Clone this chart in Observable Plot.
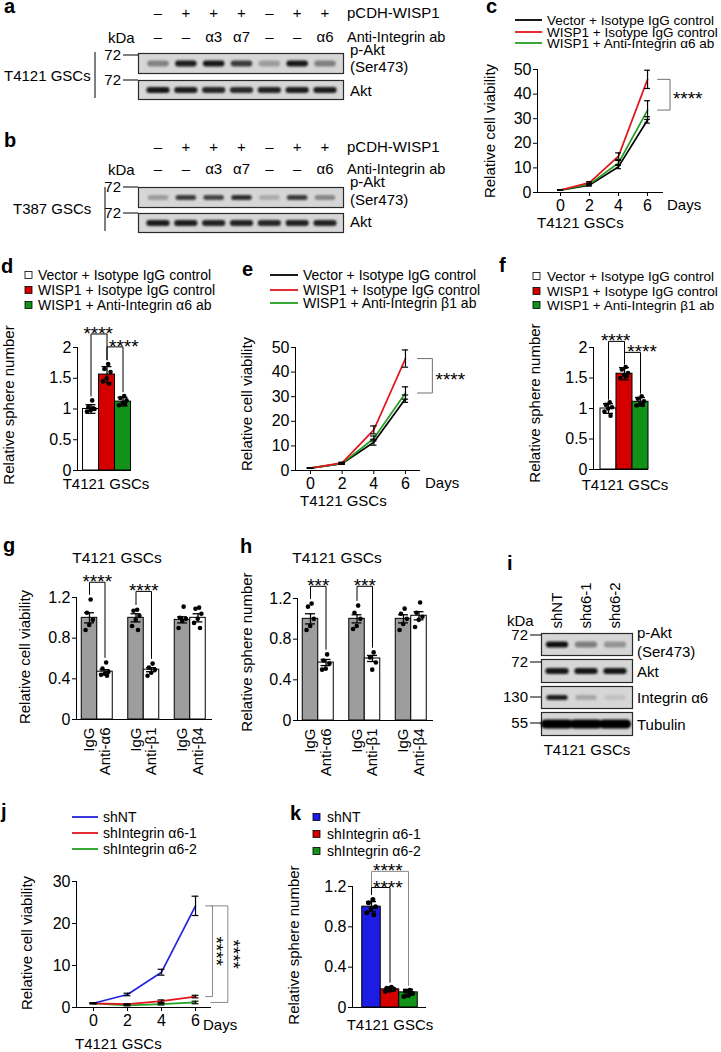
<!DOCTYPE html>
<html><head><meta charset="utf-8">
<script src="https://cdn.jsdelivr.net/npm/d3@7"></script>
<script src="https://cdn.jsdelivr.net/npm/@observablehq/plot@0.6"></script>
<style>
html,body{margin:0;padding:0;background:#fff;overflow:hidden;}
#fig{position:relative;width:721px;height:1052px;overflow:hidden;background:#fff;font-family:"Liberation Sans",Arial,Helvetica,sans-serif;}
#fig svg{position:absolute;overflow:visible;}
</style></head>
<body><div id="fig"></div>
<script>
// ---------------- DATA ----------------
// a / b : western blots (lane labels and relative band intensities)
const laneWISP1 = ["–","+","+","+","–","+","+"];
const laneAntiIntegrin = ["–","–","α3","α7","–","–","α6"];
const blotA_pAkt = [0.40, 0.90, 0.93, 0.74, 0.28, 0.93, 0.42];
const blotA_Akt  = [0.92, 0.88, 0.84, 0.82, 0.85, 0.88, 0.90];
const blotB_pAkt = [0.28, 0.74, 0.70, 0.80, 0.20, 0.74, 0.38];
const blotB_Akt  = [0.90, 0.90, 0.85, 0.86, 0.84, 0.86, 0.86];

// c : cell viability, T4121, anti-integrin a6
const days = [0, 2, 4, 6];
const cVector = [1, 3.0, 10.5, 29.5],  cVectorErr = [0.1, 0.4, 0.8, 1.3];
const cWISP1  = [1, 4.0, 14.8, 46.0],  cWISP1Err  = [0.1, 0.4, 1.3, 3.7];
const cAntiA6 = [1, 3.4, 12.0, 33.5],  cAntiA6Err = [0.1, 0.4, 1.0, 3.8];

// d : sphere number, anti-integrin a6
const dMean = [1.0, 1.56, 1.12], dSD = [0.07, 0.13, 0.07];
const dPoints = [[1.14, 1.03, 1.00, 0.98, 0.96, 1.01], [1.73, 1.65, 1.60, 1.50, 1.45, 1.41], [1.21, 1.18, 1.14, 1.10, 1.06, 1.08]];

// e : cell viability, anti-integrin b1
const eVector = [1, 2.8, 11.5, 29.2],  eVectorErr = [0.1, 0.3, 1.2, 1.5];
const eWISP1  = [1, 3.1, 16.5, 45.5],  eWISP1Err  = [0.1, 0.3, 1.6, 3.5];
const eAntiB1 = [1, 2.9, 13.0, 31.5],  eAntiB1Err = [0.1, 0.3, 1.0, 2.5];

// f : sphere number, anti-integrin b1
const fMean = [1.0, 1.57, 1.11], fSD = [0.08, 0.10, 0.07];
const fPoints = [[1.10, 1.06, 1.02, 1.00, 0.95, 0.88], [1.68, 1.64, 1.58, 1.55, 1.50, 1.53], [1.20, 1.16, 1.12, 1.08, 1.05, 1.06]];

// g / h : blocking antibodies
const ghTreatments = ["IgG", "Anti-α6", "IgG", "Anti-β1", "IgG", "Anti-β4"];
const gMean = [1.0, 0.47, 1.0, 0.49, 0.98, 1.0], gSEM = [0.05, 0.02, 0.04, 0.02, 0.03, 0.04];
const gPoints = [[1.18, 1.05, 0.98, 0.93, 0.88], [0.56, 0.50, 0.47, 0.45, 0.44, 0.43], [1.08, 1.07, 1.02, 0.98, 0.92, 0.88],
                 [0.55, 0.51, 0.49, 0.46, 0.43], [1.11, 1.00, 0.99, 0.97, 0.90], [1.10, 1.09, 1.04, 0.99, 0.95, 0.90]];
const hMean = [1.0, 0.57, 1.0, 0.61, 1.0, 1.03], hSEM = [0.05, 0.03, 0.04, 0.03, 0.04, 0.04];
const hPoints = [[1.15, 1.12, 1.00, 0.93, 0.89], [0.65, 0.59, 0.56, 0.51, 0.50], [1.13, 1.06, 1.00, 0.93, 0.90],
                 [0.67, 0.62, 0.57, 0.50], [1.10, 1.05, 1.00, 0.95, 0.89], [1.16, 1.06, 1.02, 0.99, 0.92]];

// i : knockdown blot
const iLanes = ["shNT", "shα6-1", "shα6-2"];
const iRowLabels = ["p-Akt", "Akt", "Integrin α6", "Tubulin"];
const iMarkers = ["72", "72", "130", "55"];
const blotI_pAkt  = [0.95, 0.42, 0.32];
const blotI_Akt   = [0.92, 0.92, 0.92];
const blotI_ITGA6 = [0.88, 0.22, 0.10];
const blotI_Tub   = [1.0, 1.0, 1.0];

// j : viability after knockdown
const jNT  = [1, 3.1, 8.4, 24.2], jNTErr  = [0.1, 0.3, 0.7, 2.3];
const jA61 = [1, 0.8, 1.5, 2.6],  jA61Err = [0.1, 0.1, 0.3, 0.3];
const jA62 = [1, 0.5, 0.8, 1.2],  jA62Err = [0.1, 0.1, 0.2, 0.3];

// k : sphere number after knockdown
const kGroups = ["shNT", "shIntegrin α6-1", "shIntegrin α6-2"];
const kMean = [1.0, 0.18, 0.15], kSD = [0.05, 0.02, 0.03];
const kPoints = [[1.07, 1.04, 1.00, 0.98, 0.94, 0.92], [0.20, 0.19, 0.18, 0.17, 0.16, 0.18], [0.17, 0.16, 0.14, 0.12, 0.11, 0.15]];

// ---------------- STYLE ----------------
const FONT = '"Liberation Sans", Arial, Helvetica, sans-serif';
const TICK = 16;
const RED_L = "#e3141c", GREEN_L = "#22a022", BLUE_L = "#2424dc";
const RED_B = "#d40000", GREEN_B = "#129218", BLUE_B = "#1c1ce4", GRAY_B = "#9d9d9d";
const fig = document.getElementById("fig");

function mount(svg, left, top) {
  svg.style.position = "absolute";
  svg.style.left = left + "px";
  svg.style.top = top + "px";
  svg.style.maxWidth = "none";
  svg.style.overflow = "visible";
  svg.style.background = "transparent";
  fig.appendChild(svg);
  return svg;
}

function frameChart({px0, px1, py0, py1, x, y, marks}) {
  const p = 60;
  const svg = Plot.plot({
    width: px1 - px0 + 2 * p, height: py1 - py0 + 2 * p,
    marginLeft: p, marginRight: p, marginTop: p, marginBottom: p,
    x, y, color: {type: "identity"},
    style: {fontFamily: FONT, fontSize: "15px", background: "transparent", overflow: "visible", color: "#000"},
    marks
  });
  return mount(svg, px0 - p, py0 - p);
}

const yAxis = (ticks) => Plot.axisY({ticks, tickFormat: d => String(d), tickSize: 4, tickPadding: 2, fontSize: TICK, label: null});

function lineChart({box, xDomain, yDomain, yTicks, series, capHalf, extra}) {
  const marks = [
    Plot.ruleX([xDomain[0]], {stroke: "#000"}),
    Plot.ruleY([0], {stroke: "#000"}),
    yAxis(yTicks),
    Plot.axisX({ticks: days, tickFormat: d => String(d), tickSize: 4, tickPadding: 3, fontSize: TICK, label: null})
  ];
  for (const s of series) {
    const rows = days.map((d, i) => ({day: d, v: s.values[i]}));
    marks.push(Plot.line(rows, {x: "day", y: "v", stroke: s.color, strokeWidth: 1.7}));
  }
  for (const s of series) {
    const rows = days.map((d, i) => ({day: d, v: s.values[i], e: s.errors[i]}));
    marks.push(Plot.ruleX(rows, {x: "day", y1: d => d.v - d.e, y2: d => d.v + d.e, stroke: "#000", strokeWidth: 1.2}));
    marks.push(Plot.ruleY(rows, {y: d => d.v + d.e, x1: d => d.day - capHalf, x2: d => d.day + capHalf, stroke: "#000", strokeWidth: 1.2}));
    marks.push(Plot.ruleY(rows, {y: d => d.v - d.e, x1: d => d.day - capHalf, x2: d => d.day + capHalf, stroke: "#000", strokeWidth: 1.2}));
  }
  marks.push(...extra);
  frameChart({...box, x: {domain: xDomain}, y: {domain: yDomain}, marks});
}

function jit(k) { return (((k + 1) * 0.6180339887) % 1 - 0.5) * 0.62; }

function barChart(cfg) {
  const {box, xDomain, yDomain, yTicks, xs, means, errs, points, fills, dotR = 2.3, capHalf = 0.3,
         pad = 0.05, brackets = [], stars = [], starSize = 19, xAxis = null} = cfg;
  const bars = means.map((m, i) => ({x: xs[i], m, e: errs[i], fill: fills[i]}));
  const dots = points.flatMap((arr, g) => arr.map((v, k) => ({x: xs[g] + jit(k), v})));
  const legTop = g => Math.max(...points[g]) + pad;
  const marks = [
    Plot.rect(bars, {x1: d => d.x - 0.5, x2: d => d.x + 0.5, y1: () => 0, y2: "m", fill: "fill", stroke: "#000", strokeWidth: 1}),
    Plot.dot(dots, {x: "x", y: "v", r: dotR, fill: "#000", stroke: "none"}),
    Plot.ruleX(bars, {x: "x", y1: d => d.m - d.e, y2: d => d.m + d.e, stroke: "#000", strokeWidth: 1.3}),
    Plot.ruleY(bars, {y: d => d.m + d.e, x1: d => d.x - capHalf, x2: d => d.x + capHalf, stroke: "#000", strokeWidth: 1.3}),
    Plot.ruleY(bars, {y: d => d.m - d.e, x1: d => d.x - capHalf, x2: d => d.x + capHalf, stroke: "#000", strokeWidth: 1.3}),
    Plot.ruleX([xDomain[0]], {stroke: "#000"}),
    Plot.ruleY([0], {stroke: "#000"}),
    yAxis(yTicks)
  ];
  for (const b of brackets) {
    const xa = xs[b.a], xb = xs[b.b];
    marks.push(Plot.line([[xa, legTop(b.a)], [xa, b.level], [xb, b.level], [xb, legTop(b.b)]],
      {stroke: b.color || "#000", strokeWidth: 1}));
  }
  for (const s of stars) {
    marks.push(Plot.text([s], {x: () => s.x, y: () => s.y, text: () => s.t, fontSize: starSize, textAnchor: "middle", fill: "#000"}));
  }
  if (xAxis) marks.push(xAxis);
  frameChart({...box, x: xAxis ? {domain: xDomain} : {domain: xDomain, axis: null}, y: {domain: yDomain}, marks});
}

let uid = 0;
function blotStrip(intens, {left, top, w, h, lane0, pitch, half, thick, fill = "#d6d6d6", extra = []}) {
  const d0 = (left - lane0) / pitch, d1 = (left + w - lane0) / pitch;
  const mix = d3.interpolateRgb(fill, "#050505");
  const svg = Plot.plot({
    width: w, height: h, margin: 0,
    x: extra.length ? {domain: [d0, d1]} : {domain: [d0, d1], axis: null},
    y: {domain: [0, 1], axis: null},
    color: {type: "identity"},
    style: {fontFamily: FONT, fontSize: "15px", background: "transparent", overflow: "visible", color: "#000"},
    marks: [
      Plot.frame({fill, stroke: "#2a2a2a", strokeWidth: 1.2}),
      Plot.ruleY(intens, {x1: (d, i) => i - half, x2: (d, i) => i + half, y: () => 0.5,
        stroke: d => mix(d), strokeWidth: thick, strokeLinecap: "round"}),
      ...extra
    ]
  });
  const id = "bandblur" + (uid++);
  const s = d3.select(svg);
  s.append("defs").append("filter").attr("id", id).attr("filterUnits", "userSpaceOnUse")
    .attr("x", -10).attr("y", -10).attr("width", w + 20).attr("height", h + 20)
    .append("feGaussianBlur").attr("stdDeviation", "1.3 0.9");
  s.selectAll('g[aria-label="rule"]').attr("filter", `url(#${id})`);
  return mount(svg, left, top);
}

// ---------------- BLOTS a / b ----------------
const laneGeo = {left: 138, w: 205, lane0: 158, pitch: 27.83};
blotStrip(blotA_pAkt, {...laneGeo, top: 53, h: 20, half: 0.28, thick: 6});
blotStrip(blotA_Akt,  {...laneGeo, top: 80, h: 19, half: 0.31, thick: 6});
blotStrip(blotB_pAkt, {...laneGeo, top: 187, h: 20, half: 0.28, thick: 5});
blotStrip(blotB_Akt,  {...laneGeo, top: 213, h: 19, half: 0.31, thick: 6});

// ---------------- BLOT i ----------------
const iGeo = {left: 541, w: 91, lane0: 557, pitch: 29};
blotStrip(blotI_pAkt, {...iGeo, top: 633, h: 22, half: 0.28, thick: 6,
  extra: [Plot.axisX({anchor: "top", ticks: [0, 1, 2], tickFormat: i => iLanes[i], tickRotate: -90, tickSize: 0, tickPadding: 5, fontSize: 15, label: null})]});
blotStrip(blotI_Akt,   {...iGeo, top: 659, h: 23, half: 0.3, thick: 6});
blotStrip(blotI_ITGA6, {...iGeo, top: 686, h: 22, half: 0.28, thick: 5});
blotStrip(blotI_Tub,   {...iGeo, top: 712, h: 23, half: 0.4, thick: 9});

// ---------------- c ----------------
lineChart({
  box: {px0: 537, px1: 663, py0: 69, py1: 192}, xDomain: [-1.586, 7.10], yDomain: [0, 50],
  yTicks: [0, 10, 20, 30, 40, 50], capHalf: 0.2,
  series: [
    {values: cVector, errors: cVectorErr, color: "#000"},
    {values: cAntiA6, errors: cAntiA6Err, color: GREEN_L},
    {values: cWISP1, errors: cWISP1Err, color: RED_L}
  ],
  extra: [
    Plot.line([[6.7, cWISP1[3]], [7.55, cWISP1[3]], [7.55, cAntiA6[3]], [6.7, cAntiA6[3]]], {stroke: "#707070", strokeWidth: 1}),
    Plot.text(["****"], {x: () => 7.75, y: () => (cWISP1[3] + cAntiA6[3]) / 2, text: d => d, fontSize: 19, textAnchor: "start", dy: 4})
  ]
});

// ---------------- e ----------------
lineChart({
  box: {px0: 295, px1: 420, py0: 347, py1: 470}, xDomain: [-0.947, 6.95], yDomain: [0, 50],
  yTicks: [0, 10, 20, 30, 40, 50], capHalf: 0.2,
  series: [
    {values: eVector, errors: eVectorErr, color: "#000"},
    {values: eAntiB1, errors: eAntiB1Err, color: GREEN_L},
    {values: eWISP1, errors: eWISP1Err, color: RED_L}
  ],
  extra: [
    Plot.line([[6.76, eWISP1[3]], [7.7, eWISP1[3]], [7.7, eAntiB1[3]], [6.76, eAntiB1[3]]], {stroke: "#707070", strokeWidth: 1}),
    Plot.text(["****"], {x: () => 7.9, y: () => (eWISP1[3] + eAntiB1[3]) / 2, text: d => d, fontSize: 19, textAnchor: "start", dy: 4})
  ]
});

// ---------------- j ----------------
lineChart({
  box: {px0: 76, px1: 211, py0: 881, py1: 1007}, xDomain: [-1.0, 6.94], yDomain: [0, 30],
  yTicks: [0, 10, 20, 30], capHalf: 0.2,
  series: [
    {values: jA62, errors: jA62Err, color: GREEN_L},
    {values: jA61, errors: jA61Err, color: RED_L},
    {values: jNT, errors: jNTErr, color: BLUE_L}
  ],
  extra: [
    Plot.line([[6.59, jNT[3]], [7.0, jNT[3]], [7.0, jA61[3]], [6.59, jA61[3]]], {stroke: "#888", strokeWidth: 1}),
    Plot.line([[6.9, jNT[3]], [7.9, jNT[3]], [7.9, jA62[3]], [6.9, jA62[3]]], {stroke: "#888", strokeWidth: 1}),
    Plot.text(["****"], {x: () => 7.2, y: () => (jNT[3] + jA61[3]) / 2, text: d => d, fontSize: 19, rotate: 90}),
    Plot.text(["****"], {x: () => 8.2, y: () => (jNT[3] + jA62[3]) / 2, text: d => d, fontSize: 19, rotate: 90})
  ]
});

// ---------------- d ----------------
barChart({
  box: {px0: 77, px1: 131, py0: 347, py1: 470}, xDomain: [-0.844, 2.531], yDomain: [0, 2],
  yTicks: [0, 0.5, 1, 1.5, 2], xs: [0, 1, 2], means: dMean, errs: dSD, points: dPoints,
  fills: ["#fff", RED_B, GREEN_B], capHalf: 0.31, pad: 0.07,
  brackets: [{a: 0, b: 1, level: 2.22}, {a: 1, b: 2, level: 2.01}],
  stars: [{x: 0.45, y: 2.22, t: "****"}, {x: 2.05, y: 2.01, t: "****"}]
});

// ---------------- f ----------------
barChart({
  box: {px0: 593, px1: 648, py0: 347, py1: 469}, xDomain: [-0.9375, 2.5], yDomain: [0, 2],
  yTicks: [0, 0.5, 1, 1.5, 2], xs: [0, 1, 2], means: fMean, errs: fSD, points: fPoints,
  fills: ["#fff", RED_B, GREEN_B], capHalf: 0.31, pad: 0.05,
  brackets: [{a: 0, b: 1, level: 2.10}, {a: 1, b: 2, level: 1.92}],
  stars: [{x: 0.45, y: 2.10, t: "****"}, {x: 2.1, y: 1.92, t: "****"}]
});

// ---------------- g ----------------
const ghXs = [0, 1, 3, 4, 6, 7];
const ghAxis = () => Plot.axisX({ticks: ghXs, tickFormat: d => ghTreatments[ghXs.indexOf(d)], tickRotate: -90, tickSize: 0, tickPadding: 8, fontSize: 15, label: null});
barChart({
  box: {px0: 76, px1: 212, py0: 597, py1: 719}, xDomain: [-0.839, 7.935], yDomain: [0, 1.2],
  yTicks: [0, 0.4, 0.8, 1.2], xs: ghXs, means: gMean, errs: gSEM, points: gPoints,
  fills: [GRAY_B, "#fff", GRAY_B, "#fff", GRAY_B, "#fff"], capHalf: 0.32, pad: 0.05,
  brackets: [{a: 0, b: 1, level: 1.35}, {a: 2, b: 3, level: 1.26}],
  stars: [{x: 0.5, y: 1.35, t: "****"}, {x: 3.5, y: 1.26, t: "****"}],
  xAxis: ghAxis()
});

// ---------------- h ----------------
barChart({
  box: {px0: 297, px1: 433, py0: 598, py1: 720}, xDomain: [-0.839, 7.935], yDomain: [0, 1.2],
  yTicks: [0, 0.4, 0.8, 1.2], xs: ghXs, means: hMean, errs: hSEM, points: hPoints,
  fills: [GRAY_B, "#fff", GRAY_B, "#fff", GRAY_B, "#fff"], capHalf: 0.32, pad: 0.05,
  brackets: [{a: 0, b: 1, level: 1.32}, {a: 2, b: 3, level: 1.32}],
  stars: [{x: 0.5, y: 1.32, t: "***"}, {x: 3.5, y: 1.32, t: "***"}],
  xAxis: ghAxis()
});

// ---------------- k ----------------
barChart({
  box: {px0: 352, px1: 426, py0: 886, py1: 1007}, xDomain: [-1.027, 2.973], yDomain: [0, 1.2],
  yTicks: [0, 0.4, 0.8, 1.2], xs: [0, 1, 2], means: kMean, errs: kSD, points: kPoints,
  fills: [BLUE_B, RED_B, GREEN_B], capHalf: 0.27, pad: 0.05, dotR: 2.5,
  brackets: [{a: 0, b: 2, level: 1.35, color: "#888"}, {a: 0, b: 1, level: 1.19}],
  stars: [{x: 0.88, y: 1.35, t: "****"}, {x: 0.88, y: 1.19, t: "****"}]
});

// ---------------- OVERLAY TEXT ----------------
const ov = d3.create("svg").attr("width", 721).attr("height", 1052).attr("font-family", FONT).style("pointer-events", "none");
mount(ov.node(), 0, 0);
function T(x, y, s, o = {}) {
  const t = ov.append("text").attr("x", x).attr("y", y).attr("font-size", o.size || 15)
    .attr("text-anchor", o.anchor || "start").attr("fill", "#000").text(s);
  if (o.bold) t.attr("font-weight", "bold");
  if (o.rot != null) t.attr("transform", `rotate(${o.rot},${x},${y})`);
  return t;
}
function L(x1, y1, x2, y2, stroke = "#000", w = 1) {
  ov.append("line").attr("x1", x1).attr("y1", y1).attr("x2", x2).attr("y2", y2).attr("stroke", stroke).attr("stroke-width", w);
}
function sq(x, cy, fill) {
  ov.append("rect").attr("x", x).attr("y", cy - 3.5).attr("width", 7).attr("height", 7).attr("fill", fill).attr("stroke", "#000").attr("stroke-width", 0.8);
}

// panel letters
[["a", 4, 13], ["b", 4, 147], ["c", 486, 13], ["d", 1, 273], ["e", 242, 276], ["f", 499, 272],
 ["g", 3, 552], ["h", 240, 553], ["i", 507, 570], ["j", 1, 818], ["k", 290, 820]]
  .forEach(([s, x, y]) => T(x, y, s, {size: 20, bold: true}));

// a / b labels
[[18, 42, "T4121 GSCs", 81, 60, 85, 55, 80, 95, 52, 98, 55, 72, 96],
 [152, 174, "T387 GSCs", 214, 192, 218, 187, 213, 105, 187, 231, 187, 205, 227]]
  .forEach(([r1, r2, cell, cellY, m1, m2, t1, t2, vx, vy1, vy2, pa, ser, akt], bi) => {
    laneWISP1.forEach((s, i) => T(laneGeo.lane0 + i * laneGeo.pitch, r1, s, {anchor: "middle"}));
    laneAntiIntegrin.forEach((s, i) => T(laneGeo.lane0 + i * laneGeo.pitch, r2, s, {anchor: "middle"}));
    T(347, r1, "pCDH-WISP1");
    T(347, r2, "Anti-Integrin ab", {size: 14.5});
    T(108, r2 + 1, "kDa");
    T(121, m1, "72", {anchor: "end"}); L(123, t1, 138, t1);
    T(121, m2, "72", {anchor: "end"}); L(123, t2, 138, t2);
    T(350, pa, "p-Akt"); T(350, ser, "(Ser473)"); T(350, akt, "Akt");
    T(bi === 0 ? 4 : 13, cellY, cell);
    L(vx, vy1, vx, vy2);
  });

// c
[["Vector + Isotype IgG control", "#000", 20], ["WISP1 + Isotype IgG control", RED_L, 32], ["WISP1 + Anti-Integrin α6 ab", GREEN_L, 43]]
  .forEach(([s, c, y]) => { L(515, y, 542, y, c, 1.8); T(547, y + 5, s, {size: 13.5}); });
T(495, 131, "Relative cell viability", {rot: -90, anchor: "middle"});
T(667, 210, "Days");
T(537, 228, "T4121 GSCs");

// d
[["Vector + Isotype IgG control", "#fff", 275], ["WISP1 + Isotype IgG control", RED_B, 290], ["WISP1 + Anti-Integrin α6 ab", GREEN_B, 305]]
  .forEach(([s, c, y]) => { sq(25, y, c); T(38, y + 5, s, {size: 14}); });
T(14, 405, "Relative sphere number", {rot: -90, anchor: "middle"});
T(106, 489, "T4121 GSCs", {anchor: "middle"});

// e
[["Vector + Isotype IgG control", "#000", 275], ["WISP1 + Isotype IgG control", RED_L, 290], ["WISP1 + Anti-Integrin β1 ab", GREEN_L, 303]]
  .forEach(([s, c, y]) => { L(270, y, 298, y, c, 1.8); T(303, y + 5, s, {size: 14}); });
T(252, 404, "Relative cell viability", {rot: -90, anchor: "middle"});
T(425, 488, "Days");
T(300, 506, "T4121 GSCs");

// f
[["Vector + Isotype IgG control", "#fff", 276], ["WISP1 + Isotype IgG control", RED_B, 291], ["WISP1 + Anti-Integrin β1 ab", GREEN_B, 305]]
  .forEach(([s, c, y]) => { sq(533, y, c); T(547, y + 5, s, {size: 13.5}); });
T(540, 403, "Relative sphere number", {rot: -90, anchor: "middle"});
T(625, 490, "T4121 GSCs", {anchor: "middle"});

// g / h
T(117, 563, "T4121 GSCs", {anchor: "middle", size: 15.5});
T(30, 657, "Relative cell viability", {rot: -90, anchor: "middle"});
T(337, 563, "T4121 GSCs", {anchor: "middle", size: 15.5});
T(252, 652, "Relative sphere number", {rot: -90, anchor: "middle"});

// i
T(507, 626, "kDa");
[635, 662, 697, 723].forEach((ty, i) => { T(528, ty + 5, iMarkers[i], {anchor: "end"}); L(530, ty, 541, ty); });
T(637, 638, "p-Akt"); T(637, 657, "(Ser473)"); T(637, 677, "Akt"); T(637, 703, "Integrin α6"); T(637, 730, "Tubulin");
T(587, 755, "T4121 GSCs", {anchor: "middle"});

// j
[["shNT", BLUE_L, 817], ["shIntegrin α6-1", RED_L, 833], ["shIntegrin α6-2", GREEN_L, 849]]
  .forEach(([s, c, y]) => { L(72, y, 98, y, c, 1.8); T(103, y + 5, s, {size: 14}); });
T(32, 943, "Relative cell viability", {rot: -90, anchor: "middle"});
T(203, 1030, "Days");
T(75, 1049, "T4121 GSCs");

// k
[[kGroups[0], BLUE_B, 817], [kGroups[1], RED_B, 834], [kGroups[2], GREEN_B, 851]]
  .forEach(([s, c, y]) => { sq(313, y, c); T(327, y + 5, s, {size: 14}); });
T(299, 945, "Relative sphere number", {rot: -90, anchor: "middle"});
T(390, 1030, "T4121 GSCs", {anchor: "middle"});
</script>
</body></html>
